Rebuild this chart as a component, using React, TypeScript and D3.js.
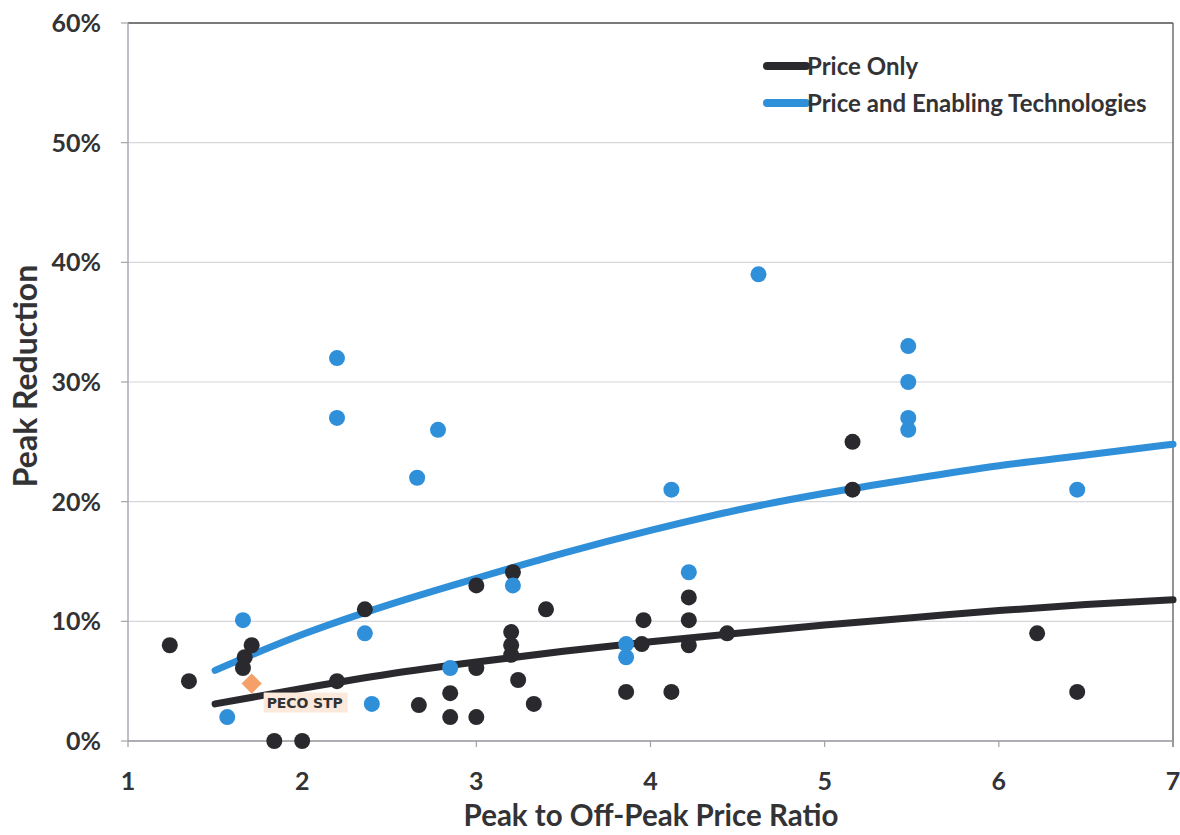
import React from "react";
import * as d3 from "d3";

const xTicks = [1, 2, 3, 4, 5, 6, 7];
const yTicks = [0, 0.1, 0.2, 0.3, 0.4, 0.5, 0.6];

const priceOnlyX = [1.24, 1.35, 1.71, 1.67, 1.66, 1.84, 2.0, 2.2, 2.36, 2.67, 2.85, 2.85, 3.0, 3.0, 3.0, 3.21, 3.2, 3.2, 3.2, 3.24, 3.33, 3.4, 3.86, 3.96, 3.95, 4.12, 4.22, 4.22, 4.22, 4.44, 5.16, 5.16, 6.22, 6.45];
const priceOnlyY = [8.0, 5.0, 8.0, 7.0, 6.1, 0, 0, 5.0, 11.0, 3.0, 4.0, 2.0, 2.0, 6.1, 13.0, 14.1, 9.1, 8.0, 7.2, 5.1, 3.1, 11.0, 4.1, 10.1, 8.1, 4.1, 12.0, 10.1, 8.0, 9.0, 25.0, 21.0, 9.0, 4.1];

const techX = [1.57, 1.66, 2.2, 2.2, 2.36, 2.4, 2.66, 2.78, 2.85, 3.21, 3.86, 3.86, 4.12, 4.22, 4.62, 5.48, 5.48, 5.48, 5.48, 6.45];
const techY = [2.0, 10.1, 32.0, 27.0, 9.0, 3.1, 22.0, 26.0, 6.1, 13.0, 8.1, 7.0, 21.0, 14.1, 39.0, 33.0, 30.0, 27.0, 26.0, 21.0];

const priceOnlyCurveX = [1.5, 2, 2.5, 3, 3.5, 4, 4.5, 5, 5.5, 6, 6.5, 7];
const priceOnlyCurveY = [3.1, 4.4, 5.6, 6.6, 7.5, 8.3, 9.0, 9.7, 10.3, 10.9, 11.4, 11.8];
const techCurveX = [1.5, 2, 2.5, 3, 3.5, 4, 4.5, 5, 5.5, 6, 6.5, 7];
const techCurveY = [5.9, 8.9, 11.4, 13.6, 15.7, 17.6, 19.3, 20.7, 21.9, 23.0, 23.9, 24.8];

const pecoX = [1.71];
const pecoY = [4.8];
const pecoLabel = "PECO STP";

const legendLabels = ["Price Only", "Price and Enabling Technologies"];
const xTitle = "Peak to Off-Peak Price Ratio";
const yTitle = "Peak Reduction";

const BLACK = "#2a2a2e";
const BLUE = "#2f8fd9";
const TEXT = "#333336";
const FONT = "Lato, 'Open Sans', sans-serif";

export default function App() {
  const W = 1180, H = 835;
  const x = d3.scaleLinear().domain([1, 7]).range([128, 1173]);
  const y = d3.scaleLinear().domain([0, 0.6]).range([741, 23]);
  const fmt = d3.format(".0%");

  const line = d3
    .line<[number, number]>()
    .x((d) => x(d[0]))
    .y((d) => y(d[1] / 100))
    .curve(d3.curveMonotoneX);

  const blackPath = line(priceOnlyCurveX.map((v, i) => [v, priceOnlyCurveY[i]]));
  const bluePath = line(techCurveX.map((v, i) => [v, techCurveY[i]]));

  const diamond = d3.symbol().type(d3.symbolDiamond2).size(260)();

  return (
    <div style={{ position: "absolute", left: 0, top: 0 }}>
      <svg width={W} height={H} style={{ display: "block", background: "#fff" }} fontFamily={FONT}>
        {/* gridlines */}
        {yTicks.map((t) => (
          <line key={"g" + t} x1={x(1)} x2={x(7)} y1={y(t)} y2={y(t)} stroke="#d6d6dc" strokeWidth={1.2} />
        ))}
        {/* frame */}
        <line x1={x(1)} x2={x(7)} y1={y(0.6)} y2={y(0.6)} stroke="#555" strokeWidth={1.6} />
        <line x1={x(7)} x2={x(7)} y1={y(0.6)} y2={y(0) + 6} stroke="#666" strokeWidth={1.4} />
        <line x1={x(1)} x2={x(1)} y1={y(0.6)} y2={y(0)} stroke="#a8a2b0" strokeWidth={1.4} />
        <line x1={x(1)} x2={x(7)} y1={y(0)} y2={y(0)} stroke="#9a9aa0" strokeWidth={1.6} />
        {yTicks.map((t) => (
          <line key={"yt" + t} x1={x(1) - 7} x2={x(1)} y1={y(t)} y2={y(t)} stroke="#a8a2b0" strokeWidth={1.2} />
        ))}
        {xTicks.map((t) => (
          <line key={"xt" + t} x1={x(t)} x2={x(t)} y1={y(0)} y2={y(0) + 6} stroke="#a0a0a6" strokeWidth={1.2} />
        ))}
        {/* tick labels */}
        {yTicks.map((t) => (
          <text key={"yl" + t} x={101} y={y(t)} dy="0.36em" textAnchor="end" fontSize={25} fontWeight={700} fill={TEXT}>
            {fmt(t)}
          </text>
        ))}
        {xTicks.map((t) => (
          <text key={"xl" + t} x={x(t)} y={781} dy="0.36em" textAnchor="middle" fontSize={25} fontWeight={700} fill={TEXT}>
            {t}
          </text>
        ))}
        {/* axis titles */}
        <text x={651} y={815} dy="0.36em" textAnchor="middle" fontSize={29.5} fontWeight={700} fill={TEXT}>
          {xTitle}
        </text>
        <text transform={`translate(25,376) rotate(-90)`} dy="0.36em" textAnchor="middle" fontSize={32} fontWeight={700} fill={TEXT}>
          {yTitle}
        </text>
        {/* curves */}
        <path d={blackPath || ""} fill="none" stroke={BLACK} strokeWidth={7} strokeLinecap="round" />
        <path d={bluePath || ""} fill="none" stroke={BLUE} strokeWidth={7} strokeLinecap="round" />
        {/* points */}
        {priceOnlyX.map((v, i) => (
          <circle key={"b" + i} cx={x(v)} cy={y(priceOnlyY[i] / 100)} r={8} fill={BLACK} />
        ))}
        {techX.map((v, i) => (
          <circle key={"t" + i} cx={x(v)} cy={y(techY[i] / 100)} r={8} fill={BLUE} />
        ))}
        {/* PECO STP */}
        {pecoX.map((v, i) => (
          <g key={"p" + i}>
            <path d={diamond || ""} transform={`translate(${x(v)},${y(pecoY[i] / 100)})`} fill="#f5a068" />
            <rect x={x(v) + 12} y={y(pecoY[i] / 100) + 9} width={84} height={20} fill="#fbeadc" />
            <text x={x(v) + 15} y={y(pecoY[i] / 100) + 19} dy="0.36em" fontSize={14} fontWeight={700} fill="#333" fontFamily="'DejaVu Sans', sans-serif" textLength={76}>
              {pecoLabel}
            </text>
          </g>
        ))}
        {/* legend */}
        {legendLabels.map((lab, i) => (
          <g key={"lg" + i} transform={`translate(0,${66 + i * 37})`}>
            <line x1={767} x2={806} y1={0} y2={0} stroke={i === 0 ? BLACK : BLUE} strokeWidth={8} strokeLinecap="round" />
            <text x={807} y={0} dy="0.36em" fontSize={24} fontWeight={700} fill={TEXT}>
              {lab}
            </text>
          </g>
        ))}
      </svg>
    </div>
  );
}
